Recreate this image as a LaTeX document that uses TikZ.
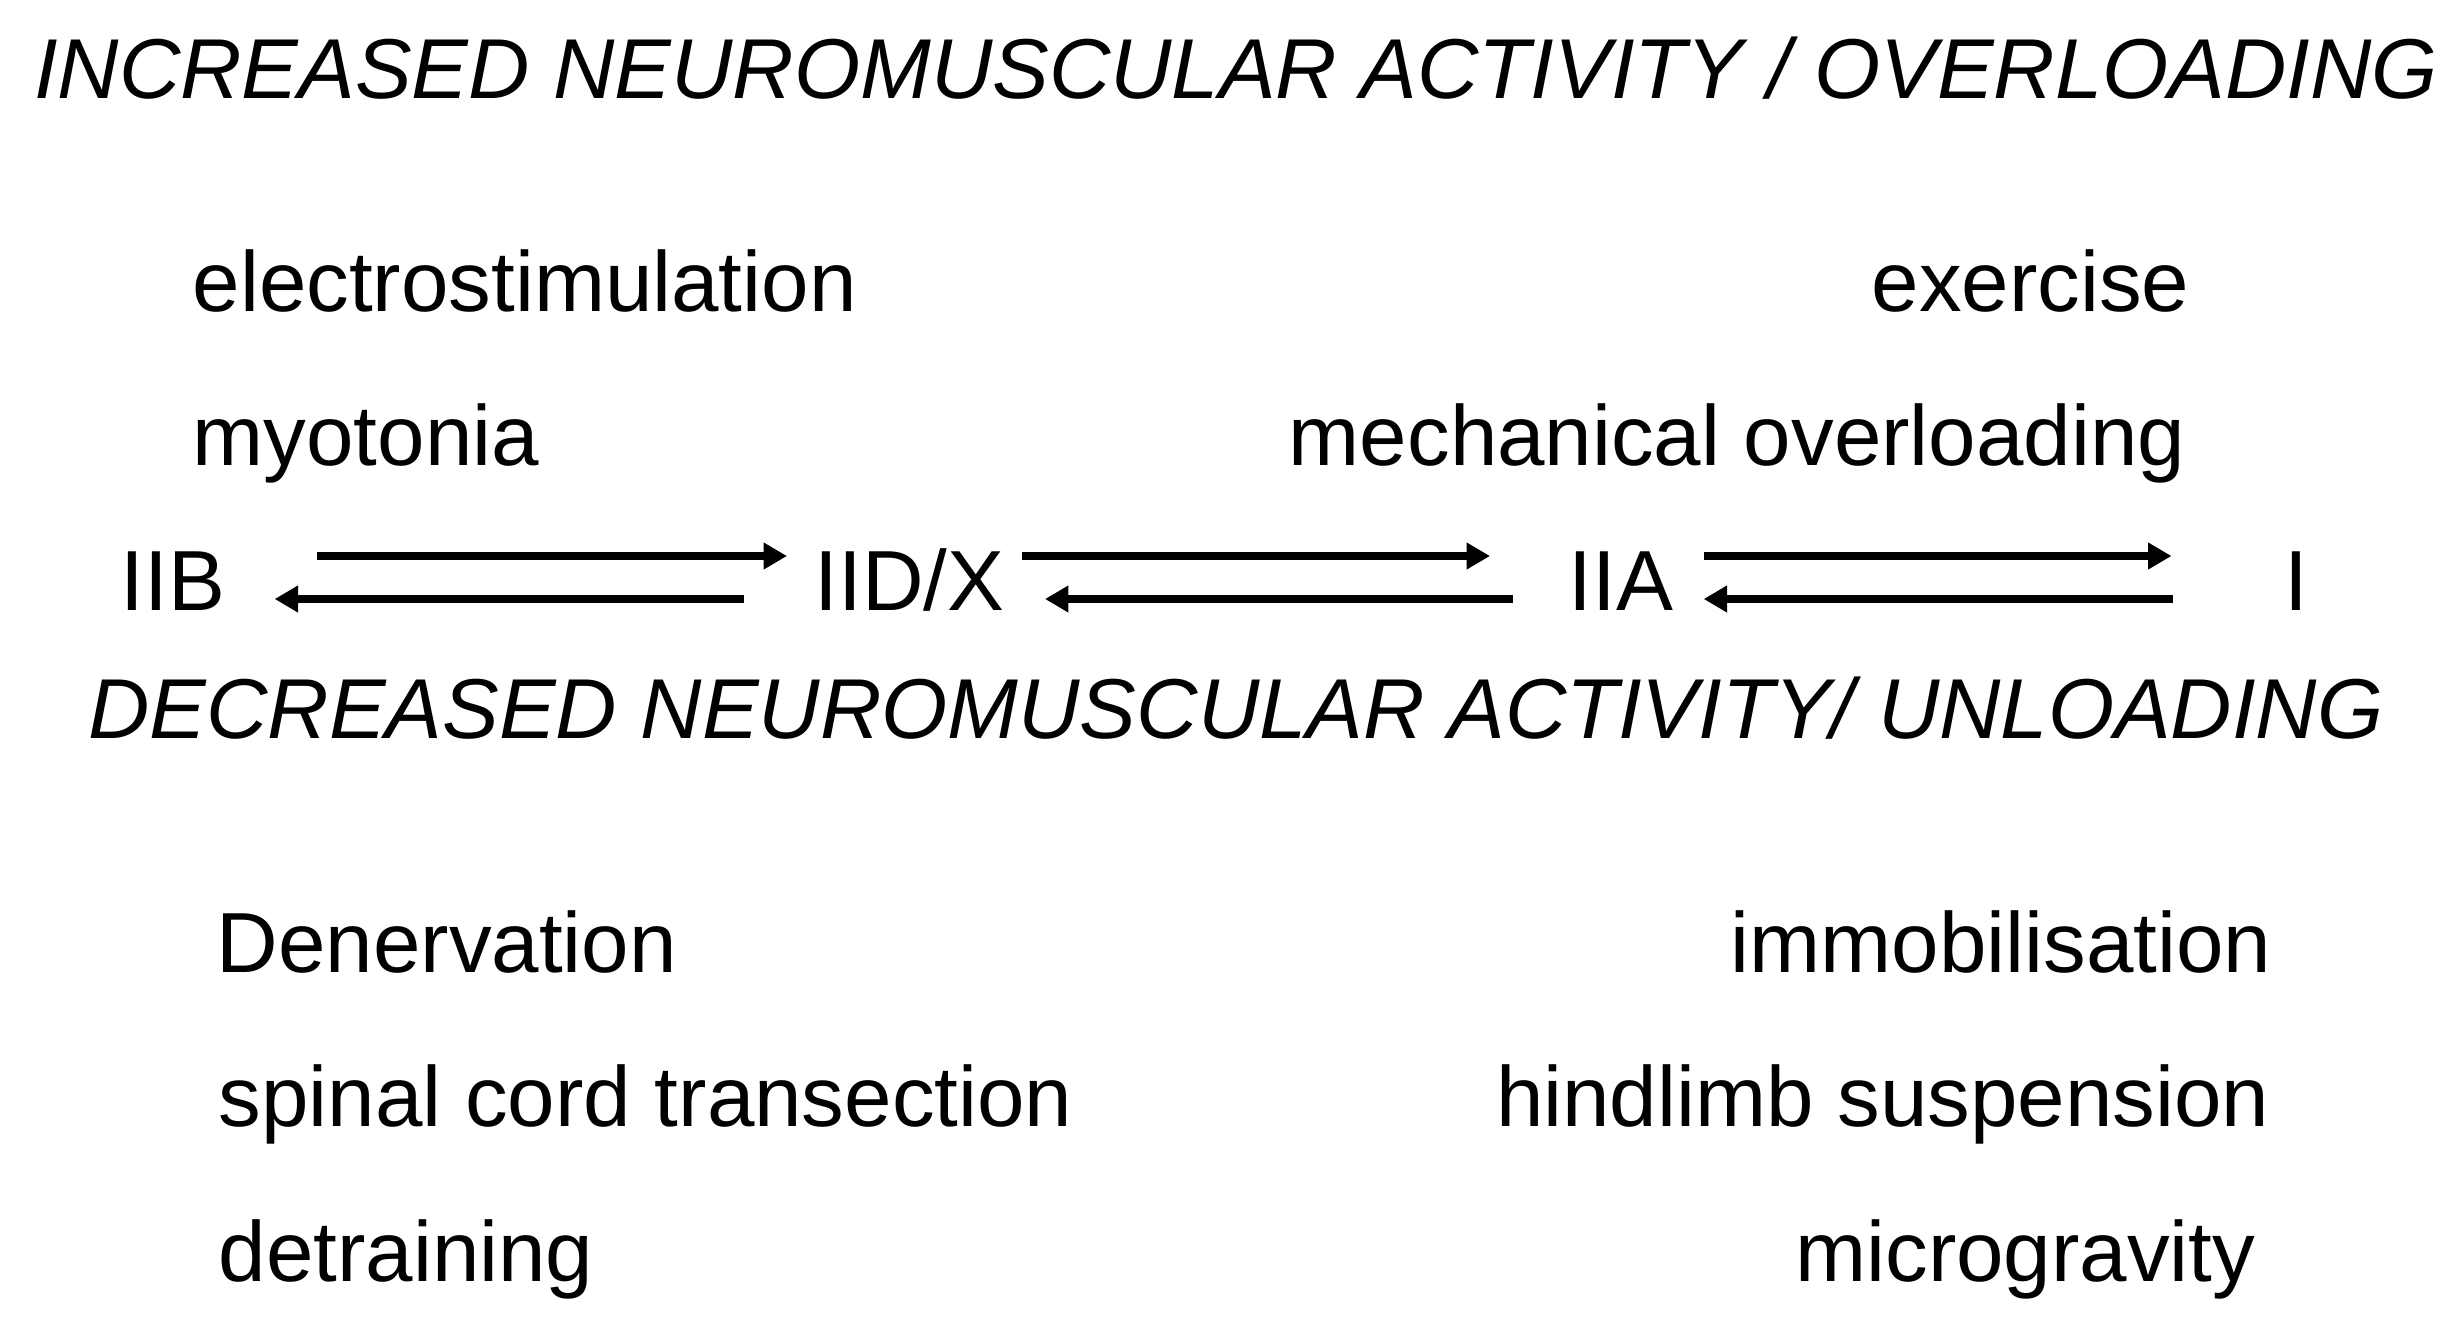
\documentclass[tikz,border=0pt]{standalone}
\usepackage{fontspec}
\setmainfont{Liberation Sans}
\usetikzlibrary{arrows.meta,positioning}

\begin{document}
\begin{tikzpicture}[
    x=0.3pt, y=-0.3pt,
    txt/.style={font=\fontsize{25.6}{31}\selectfont, inner sep=0pt},
    heading/.style={txt, font=\fontsize{25.5}{31}\selectfont\itshape},
    fibre/.style={txt, text height=18.6pt, text depth=0pt},
    convert/.style={line width=2.4pt, -{Triangle[length=7pt,width=7.6pt]}}
]

\useasboundingbox (0,0) rectangle (2454,1326);

% Headings
\node[heading, anchor=base] (up) at (1236,98) {INCREASED NEUROMUSCULAR ACTIVITY / OVERLOADING};
\node[heading, anchor=base] (down) at (1236,738) {DECREASED NEUROMUSCULAR ACTIVITY/ UNLOADING};

% Causes of fast-to-slow shift
\node[txt, anchor=base west] (estim) at (192,311) {electrostimulation};
\node[txt, anchor=base west] (myot) at (192,465) {myotonia};
\node[txt, anchor=base east] (exer) at (2190,311) {exercise};
\node[txt, anchor=base east] (mech) at (2186,465) {mechanical overloading};

% Fibre types
\node[fibre, anchor=base west] (iib) at (120,610) {IIB};
\node[fibre, anchor=base west] (iidx) at (814,610) {IID/X};
\node[fibre, anchor=base west] (iia) at (1568,610) {IIA};
\node[fibre, anchor=base] (i) at (2296,610) {I};

% Arrows between fibre types
\draw[convert] ([xshift=27.3pt, yshift=6.9pt]iib.east) -- ([xshift=-8.1pt, yshift=6.9pt]iidx.west);
\draw[convert] ([xshift=-21pt, yshift=-6pt]iidx.west) -- ([xshift=14.7pt, yshift=-6pt]iib.east);
\draw[convert] ([xshift=5.1pt, yshift=6.9pt]iidx.east) -- ([xshift=-23.4pt, yshift=6.9pt]iia.west);
\draw[convert] ([xshift=-16.5pt, yshift=-6pt]iia.west) -- ([xshift=12pt, yshift=-6pt]iidx.east);
\draw[convert] ([xshift=9pt, yshift=6.9pt]iia.east) -- ([xshift=-33.6pt, yshift=6.9pt]i.west);
\draw[convert] ([xshift=-33pt, yshift=-6pt]i.west) -- ([xshift=9pt, yshift=-6pt]iia.east);

% Causes of slow-to-fast shift
\node[txt, anchor=base west] (denerv) at (216,972) {Denervation};
\node[txt, anchor=base west] (spinal) at (218,1126) {spinal cord transection};
\node[txt, anchor=base west] (detrain) at (218,1281) {detraining};
\node[txt, anchor=base east] (immob) at (2272,972) {immobilisation};
\node[txt, anchor=base east] (hind) at (2270,1126) {hindlimb suspension};
\node[txt, anchor=base east] (micro) at (2256,1281) {microgravity};

\end{tikzpicture}
\end{document}
